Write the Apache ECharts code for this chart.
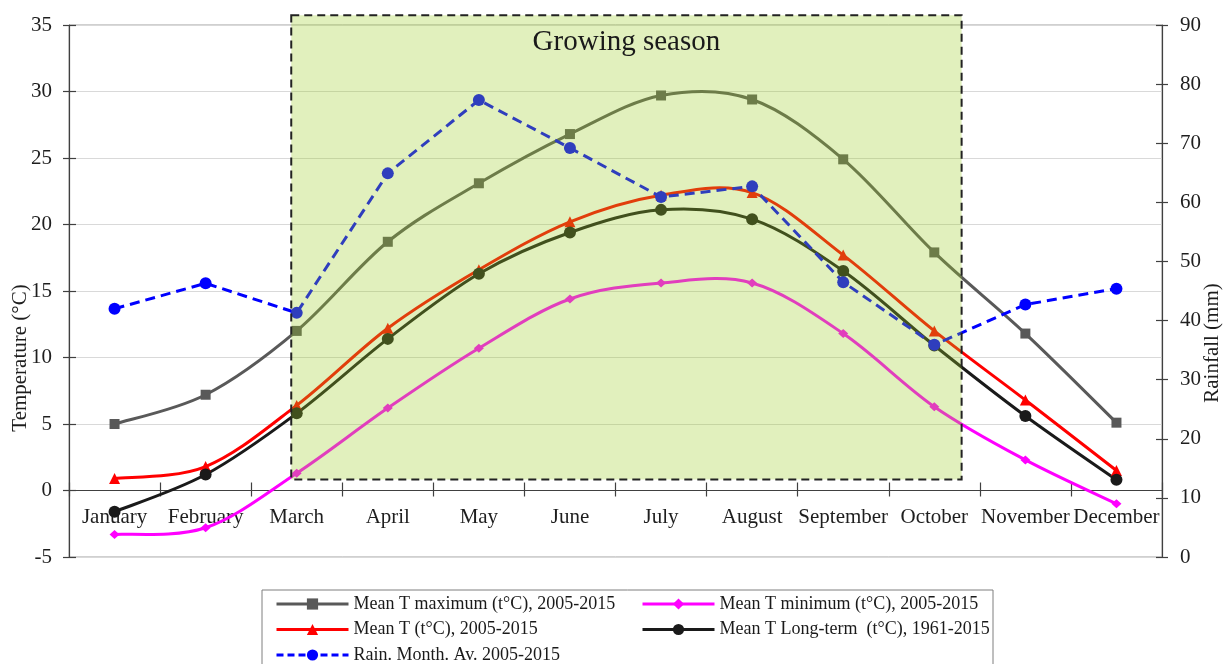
<!DOCTYPE html>
<html>
<head>
<meta charset="utf-8">
<script src="https://cdn.jsdelivr.net/npm/echarts@6/dist/echarts.min.js"></script>
<style>
html,body{margin:0;padding:0;background:#fff;}
#chart{width:1224px;height:664px;}
</style>
</head>
<body>
<div id="chart"></div>
<script>
// ---- data ----
const months = ['January','February','March','April','May','June','July','August','September','October','November','December'];
const tMax  = [5.0, 7.2, 12.0, 18.7, 23.1, 26.8, 29.7, 29.4, 24.9, 17.9, 11.8, 5.1];
const tMin  = [-3.3, -2.8, 1.3, 6.2, 10.7, 14.4, 15.6, 15.6, 11.8, 6.3, 2.3, -1.0];
const tMean = [0.9, 1.8, 6.4, 12.2, 16.6, 20.2, 22.2, 22.4, 17.7, 12.0, 6.8, 1.5];
const tLong = [-1.6, 1.2, 5.8, 11.4, 16.3, 19.4, 21.1, 20.4, 16.5, 10.9, 5.6, 0.8];
const rain  = [42.0, 46.3, 41.3, 64.9, 77.3, 69.2, 60.9, 62.7, 46.5, 35.9, 42.7, 45.4];
const tempTicks = {min: -5, max: 35, interval: 5};
const rainTicks = {min: 0, max: 90, interval: 10};
// growing season extent: [x from (category index), top (°C), x to, bottom (°C)]
const growingSeason = [1.94, 35.74, 9.30, 0.83];
const names = {
  max: 'Mean T maximum (t°C), 2005-2015',
  min: 'Mean T minimum (t°C), 2005-2015',
  mean: 'Mean T (t°C), 2005-2015',
  long: 'Mean T Long-term  (t°C), 1961-2015',
  rain: 'Rain. Month. Av. 2005-2015'
};

const FONT = '"Liberation Serif", "Times New Roman", serif';
const axisColor = '#404040';
const txtColor = '#1e1e1e';
const colors = {max: '#595959', min: '#ff00ff', mean: '#ff0000', long: '#1a1a1a', rain: '#0000ff'};

const chart = echarts.init(document.getElementById('chart'));

const legendText = {fontFamily: FONT, fontSize: 18, color: '#1a1a1a', lineHeight: 18};

// smooth curve (spreadsheet-style smoothing) drawn through the axes' coordinates
function curveSeries(key, arr) {
  return {
    name: key + '-curve', type: 'custom', xAxisIndex: 1, yAxisIndex: 0, z: 2, silent: true, clip: false,
    data: arr.map((v, i) => [i, v]),
    encode: {x: 0, y: 1},
    renderItem: function (params, api) {
      const i = params.dataIndex, n = arr.length;
      if (i >= n - 1) return null;
      const P = k => { k = Math.max(0, Math.min(n - 1, k)); return api.coord([k, arr[k]]); };
      const p0 = P(i - 1), p1 = P(i), p2 = P(i + 1), p3 = P(i + 2);
      return {
        type: 'bezierCurve',
        shape: {x1: p1[0], y1: p1[1], x2: p2[0], y2: p2[1],
                cpx1: p1[0] + (p2[0] - p0[0]) / 6, cpy1: p1[1] + (p2[1] - p0[1]) / 6,
                cpx2: p2[0] - (p3[0] - p1[0]) / 6, cpy2: p2[1] - (p3[1] - p1[1]) / 6},
        style: {stroke: colors[key], lineWidth: 3, fill: null, lineCap: 'round'}
      };
    }
  };
}

function markerSeries(key, arr, symbol, size) {
  return {name: names[key], type: 'line', data: arr, symbol: symbol, symbolSize: size, z: 3,
          lineStyle: {color: colors[key], width: 3, opacity: 0}, itemStyle: {color: colors[key]}};
}
function legendItem(key) {
  return {name: names[key], lineStyle: {color: colors[key], width: 3, opacity: 1, type: key === 'rain' ? [7, 4] : 'solid'}};
}

const option = {
  animation: false,
  backgroundColor: '#fff',
  grid: {left: 69, right: 62, top: 25, bottom: 107, containLabel: false, outerBoundsMode: 'none',
         show: true, borderColor: '#a0a0a0', borderWidth: 1, backgroundColor: 'transparent'},
  legend: [
    {data: [legendItem('max'), legendItem('mean'), legendItem('rain')], orient: 'vertical', left: 275, top: 595, height: 120,
     padding: 0, itemWidth: 72, itemHeight: 14, itemGap: 7.5, textStyle: legendText},
    {data: [legendItem('min'), legendItem('long')], orient: 'vertical', left: 641, top: 595, height: 120,
     padding: 0, itemWidth: 72, itemHeight: 14, itemGap: 7.5, textStyle: legendText}
  ],
  xAxis: [
    {type: 'category', data: months, boundaryGap: true, position: 'bottom', offset: 0,
     axisLine: {onZero: false, lineStyle: {color: axisColor, width: 1.2}},
     axisTick: {show: true, interval: 0, length: 6, lineStyle: {color: axisColor, width: 1.2}},
     axisLabel: {interval: 0, margin: 16, fontFamily: FONT, fontSize: 21, color: txtColor},
     splitLine: {show: false}},
    {type: 'value', show: false, min: -0.5, max: 11.5, axisLine: {onZero: false}},
    {type: 'category', data: months, boundaryGap: true, position: 'bottom', offset: 0,
     axisLine: {show: false, onZero: false},
     axisTick: {show: true, inside: true, interval: 0, length: 8, lineStyle: {color: axisColor, width: 1.2}},
     axisLabel: {show: false}, splitLine: {show: false}}
  ],
  yAxis: [
    {type: 'value', position: 'left', min: tempTicks.min, max: tempTicks.max, interval: tempTicks.interval,
     axisLine: {show: true, onZero: false, lineStyle: {color: axisColor, width: 1.2}},
     axisTick: {show: true, length: 6, lineStyle: {color: axisColor, width: 1.2}},
     axisLabel: {margin: 17, fontFamily: FONT, fontSize: 21, color: txtColor},
     splitLine: {show: true, lineStyle: {color: '#d9d9d9', width: 1.2}}},
    {type: 'value', position: 'right', min: rainTicks.min, max: rainTicks.max, interval: rainTicks.interval,
     axisLine: {show: true, onZero: false, lineStyle: {color: axisColor, width: 1.2}},
     axisTick: {show: true, length: 6, lineStyle: {color: axisColor, width: 1.2}},
     axisLabel: {margin: 18, fontFamily: FONT, fontSize: 21, color: txtColor},
     splitLine: {show: false}},
    {type: 'value', position: 'left', min: tempTicks.min, max: tempTicks.max, interval: tempTicks.interval,
     axisLine: {show: false, onZero: false},
     axisTick: {show: true, inside: true, length: 7, lineStyle: {color: axisColor, width: 1.2}},
     axisLabel: {show: false}, splitLine: {show: false}},
    {type: 'value', position: 'right', min: rainTicks.min, max: rainTicks.max, interval: rainTicks.interval,
     axisLine: {show: false, onZero: false},
     axisTick: {show: true, inside: true, length: 6, lineStyle: {color: axisColor, width: 1.2}},
     axisLabel: {show: false}, splitLine: {show: false}}
  ],
  graphic: [
    {type: 'rect', shape: {x: 262, y: 590, width: 731, height: 80}, style: {fill: 'none', stroke: '#7f7f7f', lineWidth: 1}, z: 0},
    {type: 'text', x: 20, y: 358, rotation: Math.PI / 2,
     style: {text: 'Temperature (°C)', fontFamily: FONT, fontSize: 21, fill: txtColor, align: 'center', verticalAlign: 'middle'}},
    {type: 'text', x: 1212, y: 343, rotation: Math.PI / 2,
     style: {text: 'Rainfall (mm)', fontFamily: FONT, fontSize: 21, fill: txtColor, align: 'center', verticalAlign: 'middle'}}
  ],
  series: [
    curveSeries('max', tMax),
    curveSeries('min', tMin),
    curveSeries('mean', tMean),
    curveSeries('long', tLong),
    markerSeries('max', tMax, 'rect', 10),
    markerSeries('min', tMin, 'diamond', [10, 9]),
    markerSeries('mean', tMean, 'triangle', 11),
    markerSeries('long', tLong, 'circle', 12),
    {name: names.rain, type: 'line', data: rain, yAxisIndex: 1, smooth: false, symbol: 'circle', symbolSize: 12, z: 4,
     lineStyle: {color: colors.rain, width: 3, type: [10, 6]}, itemStyle: {color: colors.rain}},
    {name: 'Growing season', type: 'custom', xAxisIndex: 1, yAxisIndex: 0, z: 10, silent: true, clip: false,
     data: [growingSeason],
     encode: {x: [0, 2], y: [1, 3]},
     renderItem: function (params, api) {
       const p1 = api.coord([api.value(0), api.value(1)]);
       const p2 = api.coord([api.value(2), api.value(3)]);
       return {type: 'group', children: [
         {type: 'rect', shape: {x: p1[0], y: p1[1], width: p2[0] - p1[0], height: p2[1] - p1[1]},
          style: {fill: 'rgba(155,205,38,0.3)', stroke: '#222', lineWidth: 2, lineDash: [8, 5]}},
         {type: 'text', x: (p1[0] + p2[0]) / 2, y: p1[1] + 27,
          style: {text: 'Growing season', fontFamily: FONT, fontSize: 29, fill: '#1a1a1a', align: 'center', verticalAlign: 'middle'}}
       ]};
     }}
  ]
};
chart.setOption(option);
// move the category axis up to the 0 °C level of the temperature scale
const yZero = chart.convertToPixel({yAxisIndex: 0}, 0);
const yBottom = chart.convertToPixel({yAxisIndex: 0}, tempTicks.min);
const lift = -(yBottom - yZero);
chart.setOption({xAxis: [{offset: lift}, {}, {offset: lift}]});
</script>
</body>
</html>
